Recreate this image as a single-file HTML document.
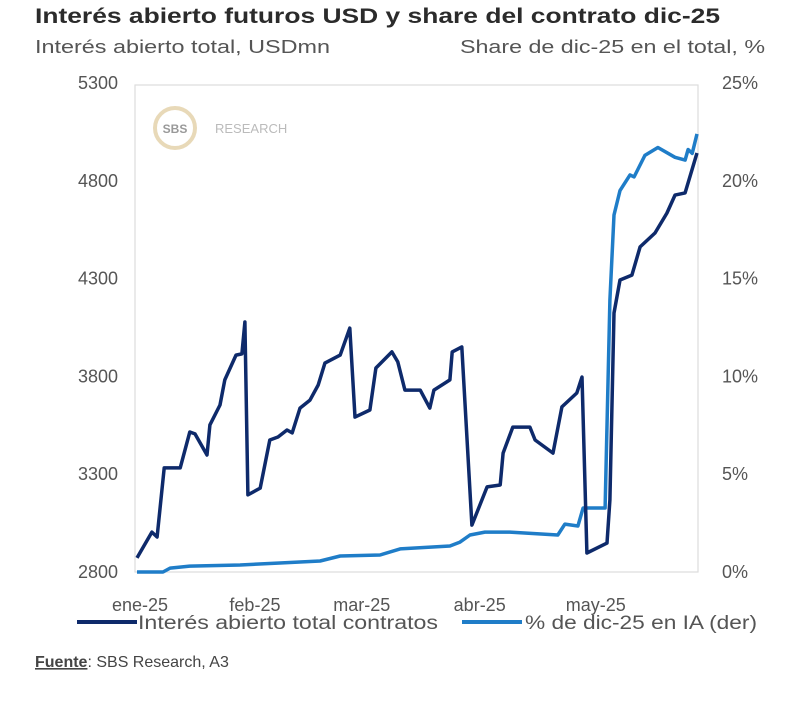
<!DOCTYPE html>
<html><head><meta charset="utf-8"><style>
html,body{margin:0;padding:0;background:#fff;}
svg{display:block;font-family:"Liberation Sans",sans-serif;}
</style></head><body>
<svg id="chart" width="800" height="701" viewBox="0 0 800 701">
<text x="35" y="23" font-size="21" font-weight="bold" fill="#2b2b2b" textLength="685" lengthAdjust="spacingAndGlyphs">Interés abierto futuros USD y share del contrato dic-25</text>
<text x="35" y="53" font-size="18" fill="#555" textLength="295" lengthAdjust="spacingAndGlyphs">Interés abierto total, USDmn</text>
<text x="460" y="53" font-size="18" fill="#555" textLength="305" lengthAdjust="spacingAndGlyphs">Share de dic-25 en el total, %</text>
<rect x="135" y="85" width="563" height="487" fill="none" stroke="#ddd" stroke-width="1.2"/>
<g>
<circle cx="175" cy="128" r="20" fill="none" stroke="#e8d9b8" stroke-width="4"/>
<text x="175" y="133" font-size="12" font-weight="bold" fill="#999" text-anchor="middle">SBS</text>
<text x="215" y="133" font-size="13" fill="#bbb">RESEARCH</text>
</g>
<g id="axes"></g>
<g id="series"></g>
<g>
<line x1="77" y1="622" x2="137" y2="622" stroke="#0e2a6b" stroke-width="4"/>
<text x="138" y="629" font-size="19" fill="#555" textLength="300" lengthAdjust="spacingAndGlyphs">Interés abierto total contratos</text>
<line x1="462" y1="622" x2="522" y2="622" stroke="#1f7dc8" stroke-width="4"/>
<text x="525" y="629" font-size="19" fill="#555" textLength="232" lengthAdjust="spacingAndGlyphs">% de dic-25 en IA (der)</text>
</g>
<text x="35" y="667" font-size="16" fill="#444"><tspan font-weight="bold" text-decoration="underline">Fuente</tspan>: SBS Research, A3</text>
</svg>
<script>
const leftTicks = [2800, 3300, 3800, 4300, 4800, 5300];
const rightTicks = [0, 5, 10, 15, 20, 25];
const monthLabels = ["ene-25", "feb-25", "mar-25", "abr-25", "may-25"];
const monthDays = [0.8, 31.7, 60.4, 92.1, 123.3];
const totalDays = [0,4.0,5.4,7.3,11.6,14.2,15.6,18.8,19.6,22.3,23.6,26.6,28.2,29.0,29.8,33.1,35.7,37.9,40.3,41.7,43.8,46.5,48.7,50.5,54.6,57.2,58.6,62.6,64.2,68.5,70.1,72.0,76.1,78.7,79.8,84.1,84.7,87.3,90.0,94.1,97.6,98.4,101.0,105.6,107.0,111.8,114.2,118.2,119.6,120.9,126.3,127.1,128.2,129.8,133.0,135.2,139.2,142.4,144.6,147.3,150.5];
const totalValues = [2872,3004,2979,3332,3332,3516,3506,3398,3552,3654,3782,3909,3915,4078,3194,3229,3475,3490,3526,3511,3638,3679,3756,3868,3909,4047,3592,3628,3843,3925,3874,3730,3730,3638,3730,3782,3925,3951,3040,3235,3245,3408,3541,3541,3475,3408,3644,3715,3797,2897,2948,3168,4124,4293,4318,4462,4533,4635,4727,4738,4942];
const shareDays = [0,7.0,8.9,14.2,27.7,38.4,49.2,54.6,65.3,70.7,84.1,86.8,89.5,93.5,100.2,113.1,115.0,118.5,119.9,125.8,127.1,128.2,129.8,132.5,133.6,136.5,140.0,144.6,147.3,148.1,149.2,150.5];
const shareValues = [0,0,0.2,0.3,0.36,0.46,0.56,0.82,0.87,1.18,1.33,1.53,1.89,2.04,2.04,1.89,2.45,2.35,3.27,3.27,13.9,18.25,19.5,20.3,20.2,21.3,21.7,21.2,21.06,21.6,21.4,22.4];

const X0=137, X1=697, D0=0, D1=150.5, YT=83, YB=572;
function xS(d){return X0+(d-D0)/(D1-D0)*(X1-X0);}
function yL(v){return YB-(v-2800)/(5300-2800)*(YB-YT);}
function yR(v){return YB-(v-0)/(25-0)*(YB-YT);}
const NS="http://www.w3.org/2000/svg";
const axes=document.getElementById('axes'), series=document.getElementById('series');
function txt(parent,x,y,s,anchor){const t=document.createElementNS(NS,'text');t.setAttribute('x',x);t.setAttribute('y',y);t.setAttribute('font-size','18');t.setAttribute('fill','#555');t.setAttribute('text-anchor',anchor);t.textContent=s;parent.appendChild(t);return t;}
leftTicks.forEach(v=>{const t=txt(axes,118,yL(v)+6,String(v),'end');

});
rightTicks.forEach(v=>{const t=txt(axes,722,yR(v)+6,v+'%','start');

});
monthLabels.forEach((m,i)=>{const t=txt(axes,xS(monthDays[i]),611,m,'middle');

});
function line(days,vals,yf,color,name){const p=document.createElementNS(NS,'polyline');
p.setAttribute('points',days.map((d,i)=>xS(d).toFixed(1)+','+yf(vals[i]).toFixed(1)).join(' '));
p.setAttribute('fill','none');p.setAttribute('stroke',color);p.setAttribute('stroke-width','3.5');p.setAttribute('stroke-linejoin','round');


series.appendChild(p);}
line(shareDays,shareValues,yR,'#1f7dc8','share-line');
line(totalDays,totalValues,yL,'#0e2a6b','total-line');
</script>
</body></html>
